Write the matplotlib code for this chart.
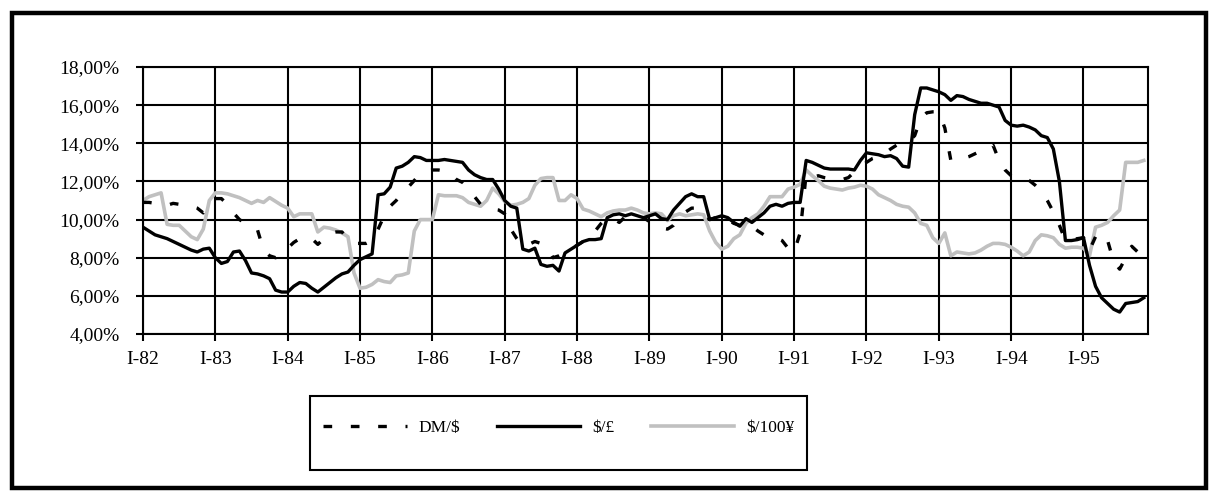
import numpy as np
import matplotlib
matplotlib.use("Agg")
import matplotlib.pyplot as plt
from matplotlib.patches import Rectangle
from matplotlib.ticker import FuncFormatter

plt.rcParams["font.family"] = ["Liberation Serif", "DejaVu Serif"]

# monthly observations, Jan 1982 .. Nov 1995 (interest rate differentials, %)
dm_usd = [10.9, 10.9, 10.85, 10.8, 10.75, 10.85, 10.8, 10.75, 10.7, 10.6, 10.35, 10.7,
          11.1, 11.1, 10.8, 10.35, 10.0, 9.8, 9.6, 9.45, 8.4, 8.1, 8.0, 8.2,
          8.5, 8.8, 9.0, 9.1, 9.0, 8.7, 9.0, 9.3, 9.35, 9.35, 9.0, 8.75,
          8.75, 8.75, 8.9, 9.5, 10.2, 10.7, 11.0, 11.4, 11.7, 12.05, 12.4, 12.55,
          12.6, 12.6, 12.55, 12.4, 12.1, 11.95, 11.65, 11.2, 10.8, 10.6, 10.55, 10.5,
          10.3, 9.5, 9.0, 8.6, 8.7, 8.85, 8.75, 8.55, 8.0, 8.1, 8.25, 8.45,
          8.65, 8.85, 9.0, 9.4, 9.8, 10.1, 10.05, 9.85, 10.15, 10.2, 10.1, 10.1,
          9.9, 9.65, 9.55, 9.5, 9.7, 10.1, 10.4, 10.6, 10.6, 10.5, 10.0, 10.1,
          10.2, 10.0, 9.8, 9.7, 9.8, 9.65, 9.4, 9.2, 9.1, 9.05, 8.9, 8.5,
          8.3, 9.3, 12.4, 12.2, 12.3, 12.2, 12.15, 12.1, 12.1, 12.2, 12.5, 12.75,
          13.0, 13.2, 13.3, 13.45, 13.7, 13.9, 14.0, 14.1, 14.4, 15.3, 15.6, 15.65,
          15.65, 14.8, 13.1, 13.15, 13.2, 13.3, 13.45, 13.6, 13.7, 13.9, 13.1, 12.6,
          12.3, 12.2, 12.15, 12.05, 11.8, 11.5, 11.0, 10.4, 9.7, 8.9, 8.95, 9.0,
          9.05, 8.4, 9.1, 9.3, 8.9, 7.8, 7.4, 8.0, 8.6, 8.3, 8.1]

usd_gbp = [9.6, 9.4, 9.2, 9.1, 9.0, 8.85, 8.7, 8.55, 8.4, 8.3, 8.45, 8.5,
           8.0, 7.7, 7.8, 8.3, 8.35, 7.85, 7.2, 7.15, 7.05, 6.9, 6.3, 6.2,
           6.2, 6.5, 6.7, 6.65, 6.4, 6.2, 6.45, 6.7, 6.95, 7.15, 7.25, 7.6,
           7.9, 8.05, 8.2, 11.3, 11.35, 11.7, 12.7, 12.8, 13.0, 13.3, 13.25, 13.1,
           13.1, 13.1, 13.15, 13.1, 13.05, 13.0, 12.6, 12.35, 12.2, 12.1, 12.1, 11.6,
           11.0, 10.7, 10.6, 8.45, 8.35, 8.5, 7.65, 7.55, 7.6, 7.3, 8.25, 8.45,
           8.65, 8.85, 8.95, 8.95, 9.0, 10.1, 10.25, 10.3, 10.2, 10.3, 10.2, 10.1,
           10.2, 10.3, 10.05, 10.0, 10.5, 10.85, 11.2, 11.35, 11.2, 11.2, 10.0, 10.1,
           10.2, 10.1, 9.85, 9.65, 10.05, 9.85, 10.1, 10.35, 10.7, 10.8, 10.7, 10.85,
           10.9, 10.9, 13.1, 13.0, 12.85, 12.7, 12.65, 12.65, 12.65, 12.65, 12.6, 13.1,
           13.5, 13.45, 13.4, 13.3, 13.35, 13.2, 12.8, 12.75, 15.5, 16.9, 16.9, 16.8,
           16.7, 16.55, 16.25, 16.5, 16.45, 16.3, 16.2, 16.1, 16.1, 16.0, 15.9, 15.2,
           14.95, 14.9, 14.95, 14.85, 14.7, 14.4, 14.3, 13.7, 12.0, 8.9, 8.9, 8.95,
           9.05, 7.6, 6.5, 5.9, 5.6, 5.3, 5.15, 5.6, 5.65, 5.7, 5.9]

usd_100jpy = [11.0, 11.2, 11.3, 11.4, 9.75, 9.7, 9.7, 9.4, 9.1, 8.95, 9.5, 11.0,
              11.4, 11.4, 11.35, 11.25, 11.15, 11.0, 10.85, 11.0, 10.9, 11.15, 10.95, 10.75,
              10.6, 10.15, 10.3, 10.3, 10.3, 9.35, 9.6, 9.55, 9.45, 9.3, 9.1, 7.2,
              6.4, 6.45, 6.6, 6.85, 6.75, 6.7, 7.05, 7.1, 7.2, 9.4, 10.0, 10.0,
              10.0, 11.3, 11.25, 11.25, 11.25, 11.15, 10.9, 10.8, 10.7, 11.0, 11.65, 11.35,
              10.95, 10.75, 10.8, 10.9, 11.1, 11.8, 12.15, 12.2, 12.2, 11.0, 11.0, 11.3,
              11.1, 10.55, 10.45, 10.3, 10.15, 10.35, 10.45, 10.5, 10.5, 10.6, 10.5, 10.35,
              10.3, 10.35, 10.3, 9.95, 10.2, 10.3, 10.2, 10.25, 10.3, 10.25, 9.4, 8.8,
              8.45, 8.6, 9.0, 9.2, 9.8, 10.1, 10.3, 10.7, 11.2, 11.2, 11.2, 11.6,
              11.7, 11.85, 12.6, 12.3, 12.05, 11.75, 11.65, 11.6, 11.55, 11.65, 11.7, 11.8,
              11.75, 11.6, 11.3, 11.15, 11.0, 10.8, 10.7, 10.65, 10.35, 9.8, 9.7, 9.05,
              8.75, 9.3, 8.1, 8.3, 8.25, 8.2, 8.25, 8.4, 8.6, 8.75, 8.75, 8.7,
              8.55, 8.35, 8.1, 8.3, 8.9, 9.2, 9.15, 9.05, 8.7, 8.5, 8.55, 8.55,
              8.5, 8.1, 9.6, 9.7, 9.85, 10.2, 10.5, 13.0, 13.0, 13.0, 13.1]

year_labels = ["I-82", "I-83", "I-84", "I-85", "I-86", "I-87", "I-88",
               "I-89", "I-90", "I-91", "I-92", "I-93", "I-94", "I-95"]

months = np.arange(len(usd_gbp))

fig = plt.figure(figsize=(12.18, 5.01), dpi=100)
ax = fig.add_axes([143 / 1218, 1 - 334 / 501, 1005 / 1218, 267 / 501])

l_dm, = ax.plot(months, dm_usd, color="black", lw=2.4, ls=(0, (2.6, 5.6)),
                dash_capstyle="butt", zorder=3)
l_gbp, = ax.plot(months, usd_gbp, color="black", lw=2.4, zorder=4)
l_jpy, = ax.plot(months, usd_100jpy, color="#c0c0c0", lw=2.6, zorder=2)

ax.set_xlim(0, 166.7)
ax.set_ylim(4, 18)
ax.set_yticks(np.arange(4, 19, 2))
ax.yaxis.set_major_formatter(FuncFormatter(lambda v, p: f"{v:.2f}".replace(".", ",") + "%"))
ax.set_xticks(np.arange(len(year_labels)) * 12)
ax.set_xticklabels(year_labels)
ax.grid(True, color="black", lw=1.5)
ax.set_axisbelow(True)
for s in ax.spines.values():
    s.set_linewidth(1.5)
ax.tick_params(axis="both", labelsize=14, length=5, width=1.5, color="black")
ax.tick_params(axis="x", pad=7)
ax.tick_params(axis="y", pad=12)

# legend box
fig.patches.append(Rectangle((310 / 1218, 1 - 470 / 501), 497 / 1218, 74 / 501,
                             transform=fig.transFigure, fill=False,
                             edgecolor="black", lw=1.5))
leg = fig.legend([l_dm, l_gbp, l_jpy], ["DM/$", "$/£", "$/100¥"],
                 loc="center", bbox_to_anchor=(559 / 1218, 1 - 428 / 501),
                 ncol=3, frameon=False, fontsize=12.5, handlelength=4.8,
                 handletextpad=0.7, columnspacing=2.1)

# outer frame
fig.patches.append(Rectangle((12 / 1218, 1 - 488 / 501), 1194 / 1218, 475 / 501,
                             transform=fig.transFigure, fill=False,
                             edgecolor="black", lw=3.2))

fig.savefig("out.png", dpi=100)
